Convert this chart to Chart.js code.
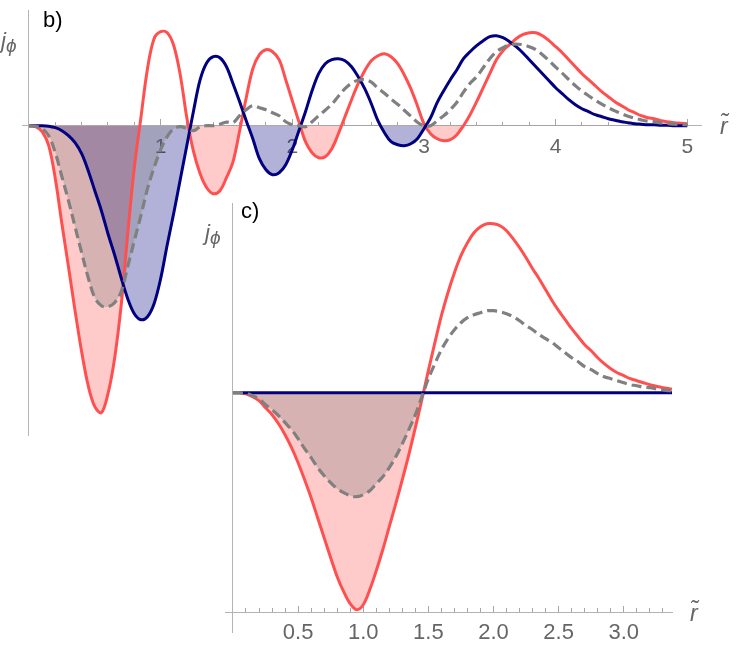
<!DOCTYPE html>
<html><head><meta charset="utf-8">
<script src="https://cdn.jsdelivr.net/npm/chart.js@4.4.1/dist/chart.umd.min.js"></script>
<style>
html,body{margin:0;padding:0;background:#fff;}
#wrap{position:relative;width:738px;height:661px;overflow:hidden;background:#fff;}
canvas{position:absolute;left:0;top:0;}
.t{position:absolute;font-family:"Liberation Sans",Arial,sans-serif;line-height:1;white-space:nowrap;}
.lab{font-size:22px;color:#000;}
.jp{font-size:22px;color:#666;font-style:italic;}
.sub{font-size:19px;position:relative;top:4px;margin-left:0px;}
.rr{font-size:23px;color:#666;font-style:italic;}
</style></head><body>
<div id="wrap">
<canvas id="cb" width="738" height="661"></canvas>
<canvas id="cc" width="738" height="661"></canvas>
<div class="t lab" style="left:43px;top:9px;">b)</div>
<div class="t lab" style="left:241px;top:200px;">c)</div>
<div class="t jp" style="left:1px;top:30px;">j<span class="sub">ϕ</span></div>
<div class="t jp" style="left:205px;top:222px;">j<span class="sub">ϕ</span></div>
<div class="t rr" style="left:720px;top:115px;">r̃</div>
<div class="t rr" style="left:690px;top:602px;">r̃</div>
</div>
<script>
// ---------- panel b data ----------
const rB = [0,0.05,0.1,0.15,0.2,0.25,0.3,0.35,0.4,0.45,0.5,0.55,0.6,0.65,0.7,0.75,0.8,0.85,0.9,0.95,
1,1.05,1.1,1.15,1.2,1.25,1.3,1.35,1.4,1.45,1.5,1.55,1.6,1.65,1.7,1.75,1.8,1.85,1.9,1.95,
2,2.05,2.1,2.15,2.2,2.25,2.3,2.35,2.4,2.45,2.5,2.55,2.6,2.65,2.7,2.75,2.8,2.85,2.9,2.95,
3,3.05,3.1,3.15,3.2,3.25,3.3,3.35,3.4,3.45,3.5,3.55,3.6,3.65,3.7,3.75,3.8,3.85,3.9,3.95,
4,4.05,4.1,4.15,4.2,4.25,4.3,4.35,4.4,4.45,4.5,4.55,4.6,4.65,4.7,4.75,4.8,4.85,4.9,4.95,5];
const redB = [0,-0.01,-0.06,-0.2,-0.53,-0.98,-1.41,-1.85,-2.26,-2.6,-2.81,-2.87,-2.68,-2.33,-1.8,-1.08,-0.42,0.08,0.57,0.87,
0.94,0.93,0.8,0.5,0.07,-0.26,-0.48,-0.62,-0.68,-0.65,-0.52,-0.36,-0.05,0.28,0.57,0.71,0.76,0.74,0.66,0.46,
0.25,0.04,-0.16,-0.27,-0.32,-0.31,-0.23,-0.08,0.09,0.26,0.42,0.55,0.65,0.7,0.72,0.69,0.62,0.51,0.37,0.2,
0.02,-0.08,-0.13,-0.15,-0.14,-0.09,0,0.11,0.24,0.38,0.52,0.66,0.75,0.81,0.87,0.91,0.93,0.93,0.9,0.85,
0.79,0.73,0.66,0.59,0.52,0.46,0.4,0.34,0.29,0.24,0.2,0.16,0.13,0.1,0.08,0.07,0.05,0.04,0.03,0.025,0.02];
const blueB = [0,0,0,-0.005,-0.02,-0.05,-0.1,-0.17,-0.28,-0.45,-0.65,-0.85,-1.08,-1.29,-1.52,-1.73,-1.88,-1.94,-1.91,-1.78,
-1.53,-1.19,-0.87,-0.53,-0.19,0.15,0.46,0.63,0.69,0.68,0.59,0.42,0.24,0.05,-0.13,-0.33,-0.44,-0.49,-0.47,-0.39,
-0.24,-0.05,0.14,0.35,0.52,0.62,0.66,0.67,0.65,0.59,0.49,0.37,0.22,0.05,-0.07,-0.16,-0.19,-0.2,-0.18,-0.13,
-0.03,0.08,0.23,0.35,0.46,0.56,0.67,0.74,0.8,0.85,0.89,0.9,0.88,0.84,0.79,0.73,0.66,0.59,0.52,0.45,
0.38,0.32,0.26,0.21,0.17,0.14,0.11,0.09,0.07,0.055,0.04,0.03,0.02,0.015,0.01,0.01,0.005,0.005,0,0,0];
const grayB = [0,-0.005,-0.03,-0.1,-0.27,-0.51,-0.75,-1.01,-1.27,-1.52,-1.72,-1.8,-1.81,-1.77,-1.66,-1.41,-1.15,-0.9,-0.63,-0.42,
-0.24,-0.11,-0.03,-0.01,-0.03,-0.05,-0.01,0,0,0.015,0.035,0.03,0.1,0.16,0.2,0.18,0.16,0.13,0.1,0.04,
0.01,0,-0.01,0.04,0.1,0.155,0.215,0.295,0.37,0.425,0.455,0.46,0.435,0.375,0.325,0.265,0.215,0.155,0.095,0.035,
0,0,0.05,0.1,0.16,0.235,0.335,0.425,0.49,0.58,0.67,0.74,0.78,0.81,0.815,0.81,0.79,0.76,0.71,0.65,
0.585,0.525,0.46,0.4,0.345,0.3,0.255,0.215,0.18,0.148,0.12,0.095,0.075,0.058,0.045,0.04,0.028,0.022,0.015,0.012,0.01];
const bMajorTicks = [1,2,3,4,5];
const bTickLabels = ['1','2','3','4','5'];
const bMinorTicks = [0.2,0.4,0.6,0.8,1.2,1.4,1.6,1.8,2.2,2.4,2.6,2.8,3.2,3.4,3.6,3.8,4.2,4.4,4.6,4.8];

// ---------- panel c data ----------
const rC = [0,0.05,0.1,0.15,0.2,0.25,0.3,0.35,0.4,0.45,0.5,0.55,0.6,0.65,0.7,0.75,0.8,0.85,0.9,0.95,
1,1.05,1.1,1.15,1.2,1.25,1.3,1.35,1.4,1.45,1.5,1.55,1.6,1.65,1.7,1.75,1.8,1.85,1.9,1.95,
2,2.05,2.1,2.15,2.2,2.25,2.3,2.35,2.4,2.45,2.5,2.55,2.6,2.65,2.7,2.75,2.8,2.85,2.9,2.95,
3,3.05,3.1,3.15,3.2,3.25,3.3,3.35,3.37];
const redC = [0,0,-0.01,-0.04,-0.08,-0.15,-0.22,-0.31,-0.42,-0.55,-0.7,-0.87,-1.05,-1.25,-1.45,-1.65,-1.84,-1.99,-2.11,-2.17,
-2.12,-1.97,-1.78,-1.57,-1.34,-1.11,-0.87,-0.62,-0.35,-0.07,0.22,0.5,0.77,1.0,1.2,1.37,1.5,1.6,1.66,1.69,
1.69,1.67,1.62,1.54,1.45,1.35,1.24,1.14,1.03,0.92,0.82,0.73,0.64,0.56,0.48,0.42,0.35,0.29,0.24,0.2,
0.17,0.14,0.12,0.1,0.08,0.065,0.05,0.04,0.035];
const grayC = [0,0,-0.005,-0.03,-0.06,-0.12,-0.17,-0.23,-0.3,-0.37,-0.46,-0.56,-0.65,-0.75,-0.83,-0.9,-0.96,-1,-1.03,-1.04,
-1.02,-0.98,-0.91,-0.84,-0.75,-0.64,-0.51,-0.37,-0.22,-0.04,0.14,0.29,0.43,0.54,0.63,0.7,0.75,0.78,0.8,0.82,
0.82,0.81,0.79,0.76,0.72,0.67,0.63,0.58,0.54,0.5,0.45,0.4,0.35,0.31,0.26,0.23,0.19,0.16,0.14,0.12,
0.1,0.08,0.07,0.055,0.05,0.04,0.03,0.02,0.018];
const blueC = [0,0,0,0,0,0,0,0,0,0,0,0,0,0,0,0,0,0,0,0,
0,0,0,0,0,0,0,0,0,0,0,0,0,0,0,0,0,0,0,0,
0,0,0,0,0,0,0,0,0,0,0,0,0,0,0,0,0,0,0,0,
0,0,0,0,0,0,0,0,0];
const cMajorTicks = [0.5,1,1.5,2,2.5,3];
const cTickLabels = ['0.5','1.0','1.5','2.0','2.5','3.0'];
const cMinorTicks = [0.1,0.2,0.3,0.4,0.6,0.7,0.8,0.9,1.1,1.2,1.3,1.4,1.6,1.7,1.8,1.9,2.1,2.2,2.3,2.4,2.6,2.7,2.8,2.9,3.1,3.2,3.3];
const cYTicks = [0];
const cYLabels = ['0'];

// ---------- styling ----------
const FONT = '"Liberation Sans", Arial, sans-serif';
const RED = '#ff5050', BLUE = '#000080', GRAY = '#808080';
const AXIS = '#b4b4b4', TICK = '#a6a6a6', LABEL = '#666666';
const pts = (xs, ys) => xs.map((x, i) => ({x: x, y: ys[i]}));
const zeroH = s => { s.height = 0; };
const zeroW = s => { s.width = 0; };
const setTicks = arr => (s => { s.ticks = arr.map(v => ({value: v})); });
const negFill = c => ({target: 'origin', above: 'rgba(0,0,0,0)', below: c});

function datasets(r, red, blue, gray) {
  return [
    {data: pts(r, gray), borderColor: GRAY, borderWidth: 3.2, borderDash: [10, 5],
     fill: negFill('rgba(128,128,128,0.32)')},
    {data: pts(r, blue), borderColor: BLUE, borderWidth: 3, fill: negFill('rgba(0,0,128,0.3)')},
    {data: pts(r, red), borderColor: RED, borderWidth: 3, fill: negFill('rgba(255,80,80,0.3)')}
  ];
}
const baseOpts = {
  responsive: false, animation: false, devicePixelRatio: 1,
  elements: {point: {radius: 0}, line: {tension: 0.35, borderJoinStyle: 'round'}},
  plugins: {legend: {display: false}, tooltip: {enabled: false},
            filler: {drawTime: 'beforeDatasetsDraw'}}
};

// ---------- chart b ----------
new Chart(document.getElementById('cb'), {
  type: 'line',
  data: {datasets: datasets(rB, redB, blueB, grayB)},
  options: Object.assign({}, baseOpts, {
    layout: {padding: {left: 22, right: 37, top: 10, bottom: 226}},
    scales: {
      x: {type: 'linear', min: -0.053, max: 5.104, position: {y: 0}, afterFit: zeroH,
          afterBuildTicks: setTicks(bMajorTicks),
          ticks: {callback: (v, i) => bTickLabels[i], autoSkip: false, maxRotation: 0, minRotation: 0,
                  padding: 16, color: LABEL, font: {family: FONT, size: 21}},
          grid: {drawOnChartArea: false, drawTicks: true, tickLength: -7, color: TICK, lineWidth: 1},
          border: {display: true, color: AXIS, width: 1}},
      xm: {axis: 'x', type: 'linear', min: -0.053, max: 5.104, position: {y: 0}, afterFit: zeroH,
          afterBuildTicks: setTicks(bMinorTicks),
          ticks: {display: false, autoSkip: false},
          grid: {drawOnChartArea: false, drawTicks: true, tickLength: -4, color: TICK, lineWidth: 1},
          border: {display: false}},
      y: {type: 'linear', min: -3.093, max: 1.157, position: {x: 0}, afterFit: zeroW,
          ticks: {display: false}, grid: {display: false, drawTicks: false},
          border: {display: true, color: AXIS, width: 1}}
    }
  })
});

// ---------- chart c ----------
const cYmin = -2.393, cYmax = 1.897, cXaxisAt = -2.193;
new Chart(document.getElementById('cc'), {
  type: 'line',
  data: {datasets: datasets(rC, redC, blueC, grayC)},
  options: Object.assign({}, baseOpts, {
    layout: {padding: {left: 225, right: 66, top: 203, bottom: 29}},
    scales: {
      x: {type: 'linear', min: -0.061, max: 3.37, position: {y: cXaxisAt}, afterFit: zeroH,
          afterBuildTicks: setTicks(cMajorTicks),
          ticks: {callback: (v, i) => cTickLabels[i], autoSkip: false, maxRotation: 0, minRotation: 0,
                  padding: 15, color: LABEL, font: {family: FONT, size: 22}},
          grid: {drawOnChartArea: false, drawTicks: true, tickLength: -7, color: TICK, lineWidth: 1},
          border: {display: true, color: AXIS, width: 1}},
      xm: {axis: 'x', type: 'linear', min: -0.061, max: 3.37, position: {y: cXaxisAt}, afterFit: zeroH,
          afterBuildTicks: setTicks(cMinorTicks),
          ticks: {display: false, autoSkip: false},
          grid: {drawOnChartArea: false, drawTicks: true, tickLength: -4, color: TICK, lineWidth: 1},
          border: {display: false}},
      y: {type: 'linear', min: cYmin, max: cYmax, position: {x: 0}, afterFit: zeroW,
          ticks: {display: false}, grid: {display: false, drawTicks: false},
          border: {display: true, color: AXIS, width: 1}},
      y0: {axis: 'y', type: 'linear', min: cYmin, max: cYmax, position: 'left', afterFit: zeroW,
          afterBuildTicks: setTicks(cYTicks),
          ticks: {callback: (v, i) => cYLabels[i], padding: -2, color: LABEL, font: {family: FONT, size: 22}},
          grid: {display: false, drawTicks: false}, border: {display: false}}
    }
  })
});
</script>
</body></html>
